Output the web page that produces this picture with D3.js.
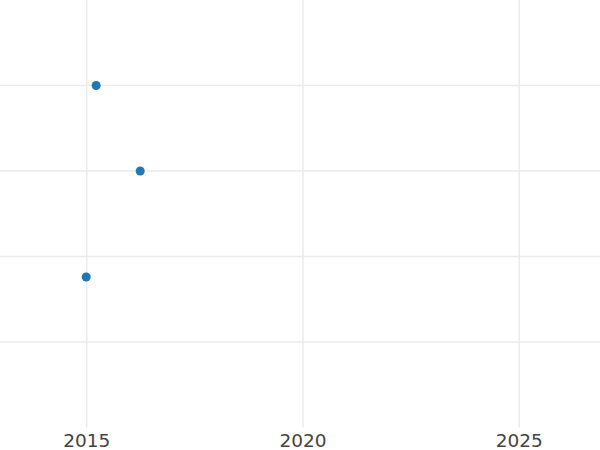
<!DOCTYPE html>
<html>
<head>
<meta charset="utf-8">
<script src="https://cdn.jsdelivr.net/npm/d3@7"></script>
<style>
  html, body { margin: 0; padding: 0; background: #fff; }
  svg { display: block; }
</style>
</head>
<body>
<svg id="chart"></svg>
<script>
// data
const dates = ['2015-01-01', '2015-03-26', '2016-04-01'];
const values = [1.76, 4, 3];
const xTickYears = [2015, 2020, 2025];
const yTicks = [1, 2, 3, 4];

const w = 600;
const h = 450;
const plotBottom = 427.5;

const parse = d3.timeParse('%Y-%m-%d');
const points = dates.map((d, i) => ({ date: parse(d), value: values[i] }));

const svg = d3.select('#chart')
  .attr('width', w)
  .attr('height', h);

const xScale = d3.scaleTime()
  .domain([new Date(2013, 0, 3), new Date(2026, 10, 18)])
  .range([0, w]);
const yScale = d3.scaleLinear()
  .domain([0, 5])
  .range([plotBottom, 0]);

// grid
svg.append('g')
  .selectAll('line')
  .data(yTicks)
  .join('line')
    .attr('x1', 0)
    .attr('x2', w)
    .attr('y1', d => yScale(d))
    .attr('y2', d => yScale(d))
    .attr('stroke', '#ebebeb')
    .attr('stroke-width', 1.5);

const xTicks = xTickYears.map(y => new Date(y, 0, 1));
const xAxis = d3.axisBottom(xScale)
  .tickValues(xTicks)
  .tickSize(-plotBottom)
  .tickPadding(6)
  .tickFormat(d3.timeFormat('%Y'));

const gx = svg.append('g')
  .attr('transform', `translate(0, ${plotBottom})`)
  .call(xAxis);
gx.select('.domain').remove();
gx.selectAll('.tick line')
  .attr('stroke', '#ebebeb')
  .attr('stroke-width', 1.5);
gx.selectAll('.tick text')
  .attr('fill', '#444')
  .style('font-family', '"DejaVu Sans", sans-serif')
  .style('font-size', '18.5px');

// points
svg.append('g')
  .selectAll('circle')
  .data(points)
  .join('circle')
    .attr('cx', d => xScale(d.date))
    .attr('cy', d => yScale(d.value))
    .attr('r', 4.5)
    .attr('fill', '#1f77b4');
</script>
</body>
</html>
